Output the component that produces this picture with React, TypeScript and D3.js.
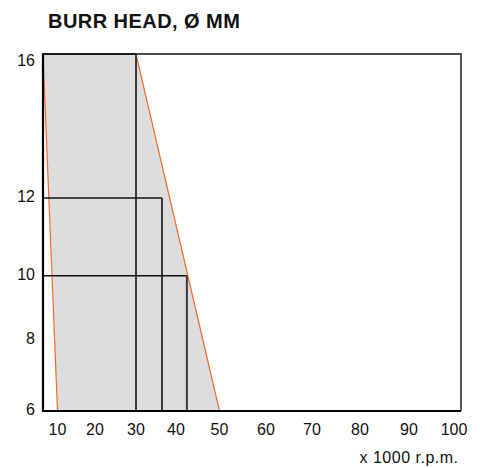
import React from "react";
import * as d3 from "d3";

const title = "BURR HEAD, Ø MM";
const xUnit = "x 1000 r.p.m.";
const xTicks = [10, 20, 30, 40, 50, 60, 70, 80, 90, 100];
const yTicks = [6, 8, 10, 12, 16];
// envelope of permitted speed per burr head diameter
const envRpm = [6.3, 30, 50, 10];
const envDia = [16, 16, 6, 6];
// max speed boxes per diameter
const boxDia = [16, 12, 10];
const boxRpm = [30, 36.5, 42.5];

const W = 480;
const H = 468;
const left = 43;
const right = 461;
const top = 54;
const bottom = 411;

// the printed axis is not evenly spaced: piecewise scales through tick positions
const x = d3
  .scaleLinear()
  .domain([6.3, 10, 20, 30, 40, 50, 60, 70, 80, 90, 100, 101.6])
  .range([left, 57.5, 95, 136, 176, 219.5, 266, 312, 360, 409, 454, right]);
const y = d3
  .scaleLinear()
  .domain([6, 8, 10, 12, 16])
  .range([bottom, 340, 275.7, 198, top]);

export default function App() {
  const env = envRpm.map((r, i) => [x(r), y(envDia[i])] as [number, number]);
  const envPath = d3.line()(env) + "Z";
  const font = "'Liberation Sans', Arial, Helvetica, sans-serif";
  return (
    <svg
      width={W}
      height={H}
      style={{ position: "absolute", left: 0, top: 0, background: "#fff" }}
      fontFamily={font}
    >
      <text x={48} y={28.3} fontSize={20} fontWeight="bold" fill="#111" letterSpacing={0.45}>
        {title}
      </text>
      <path d={envPath} fill="#dcdddf" stroke="#f26a2a" strokeWidth={1.2} />
      {boxDia.map((dd, i) => (
        <g key={dd} stroke="#333" fill="none">
          <line x1={left} x2={x(boxRpm[i])} y1={y(dd)} y2={y(dd)} strokeWidth={1.5} stroke="#111" />
          <line x1={x(boxRpm[i])} x2={x(boxRpm[i])} y1={y(dd)} y2={bottom} strokeWidth={2} stroke="#3a3a3a" />
        </g>
      ))}
      {/* frame */}
      <line x1={left} x2={right} y1={top} y2={top} stroke="#111" strokeWidth={1.5} />
      <line x1={right} x2={right} y1={top - 0.7} y2={bottom} stroke="#555" strokeWidth={2} />
      <line x1={left - 1} x2={right} y1={bottom} y2={bottom} stroke="#000" strokeWidth={2} />
      <line x1={left} x2={left} y1={top - 0.7} y2={bottom + 1} stroke="#000" strokeWidth={2.2} />
      {yTicks.map((t) => (
        <text key={t} x={35} y={y(t) + (t === 16 ? 12 : t === 6 ? 3.5 : 4)} fontSize={16} textAnchor="end" fill="#111">
          {t}
        </text>
      ))}
      {xTicks.map((t) => (
        <text key={t} x={x(t)} y={435} fontSize={16} textAnchor="middle" fill="#111">
          {t}
        </text>
      ))}
      <text x={458.5} y={462.5} fontSize={16} textAnchor="end" fill="#111" letterSpacing={0.5}>
        {xUnit}
      </text>
    </svg>
  );
}
